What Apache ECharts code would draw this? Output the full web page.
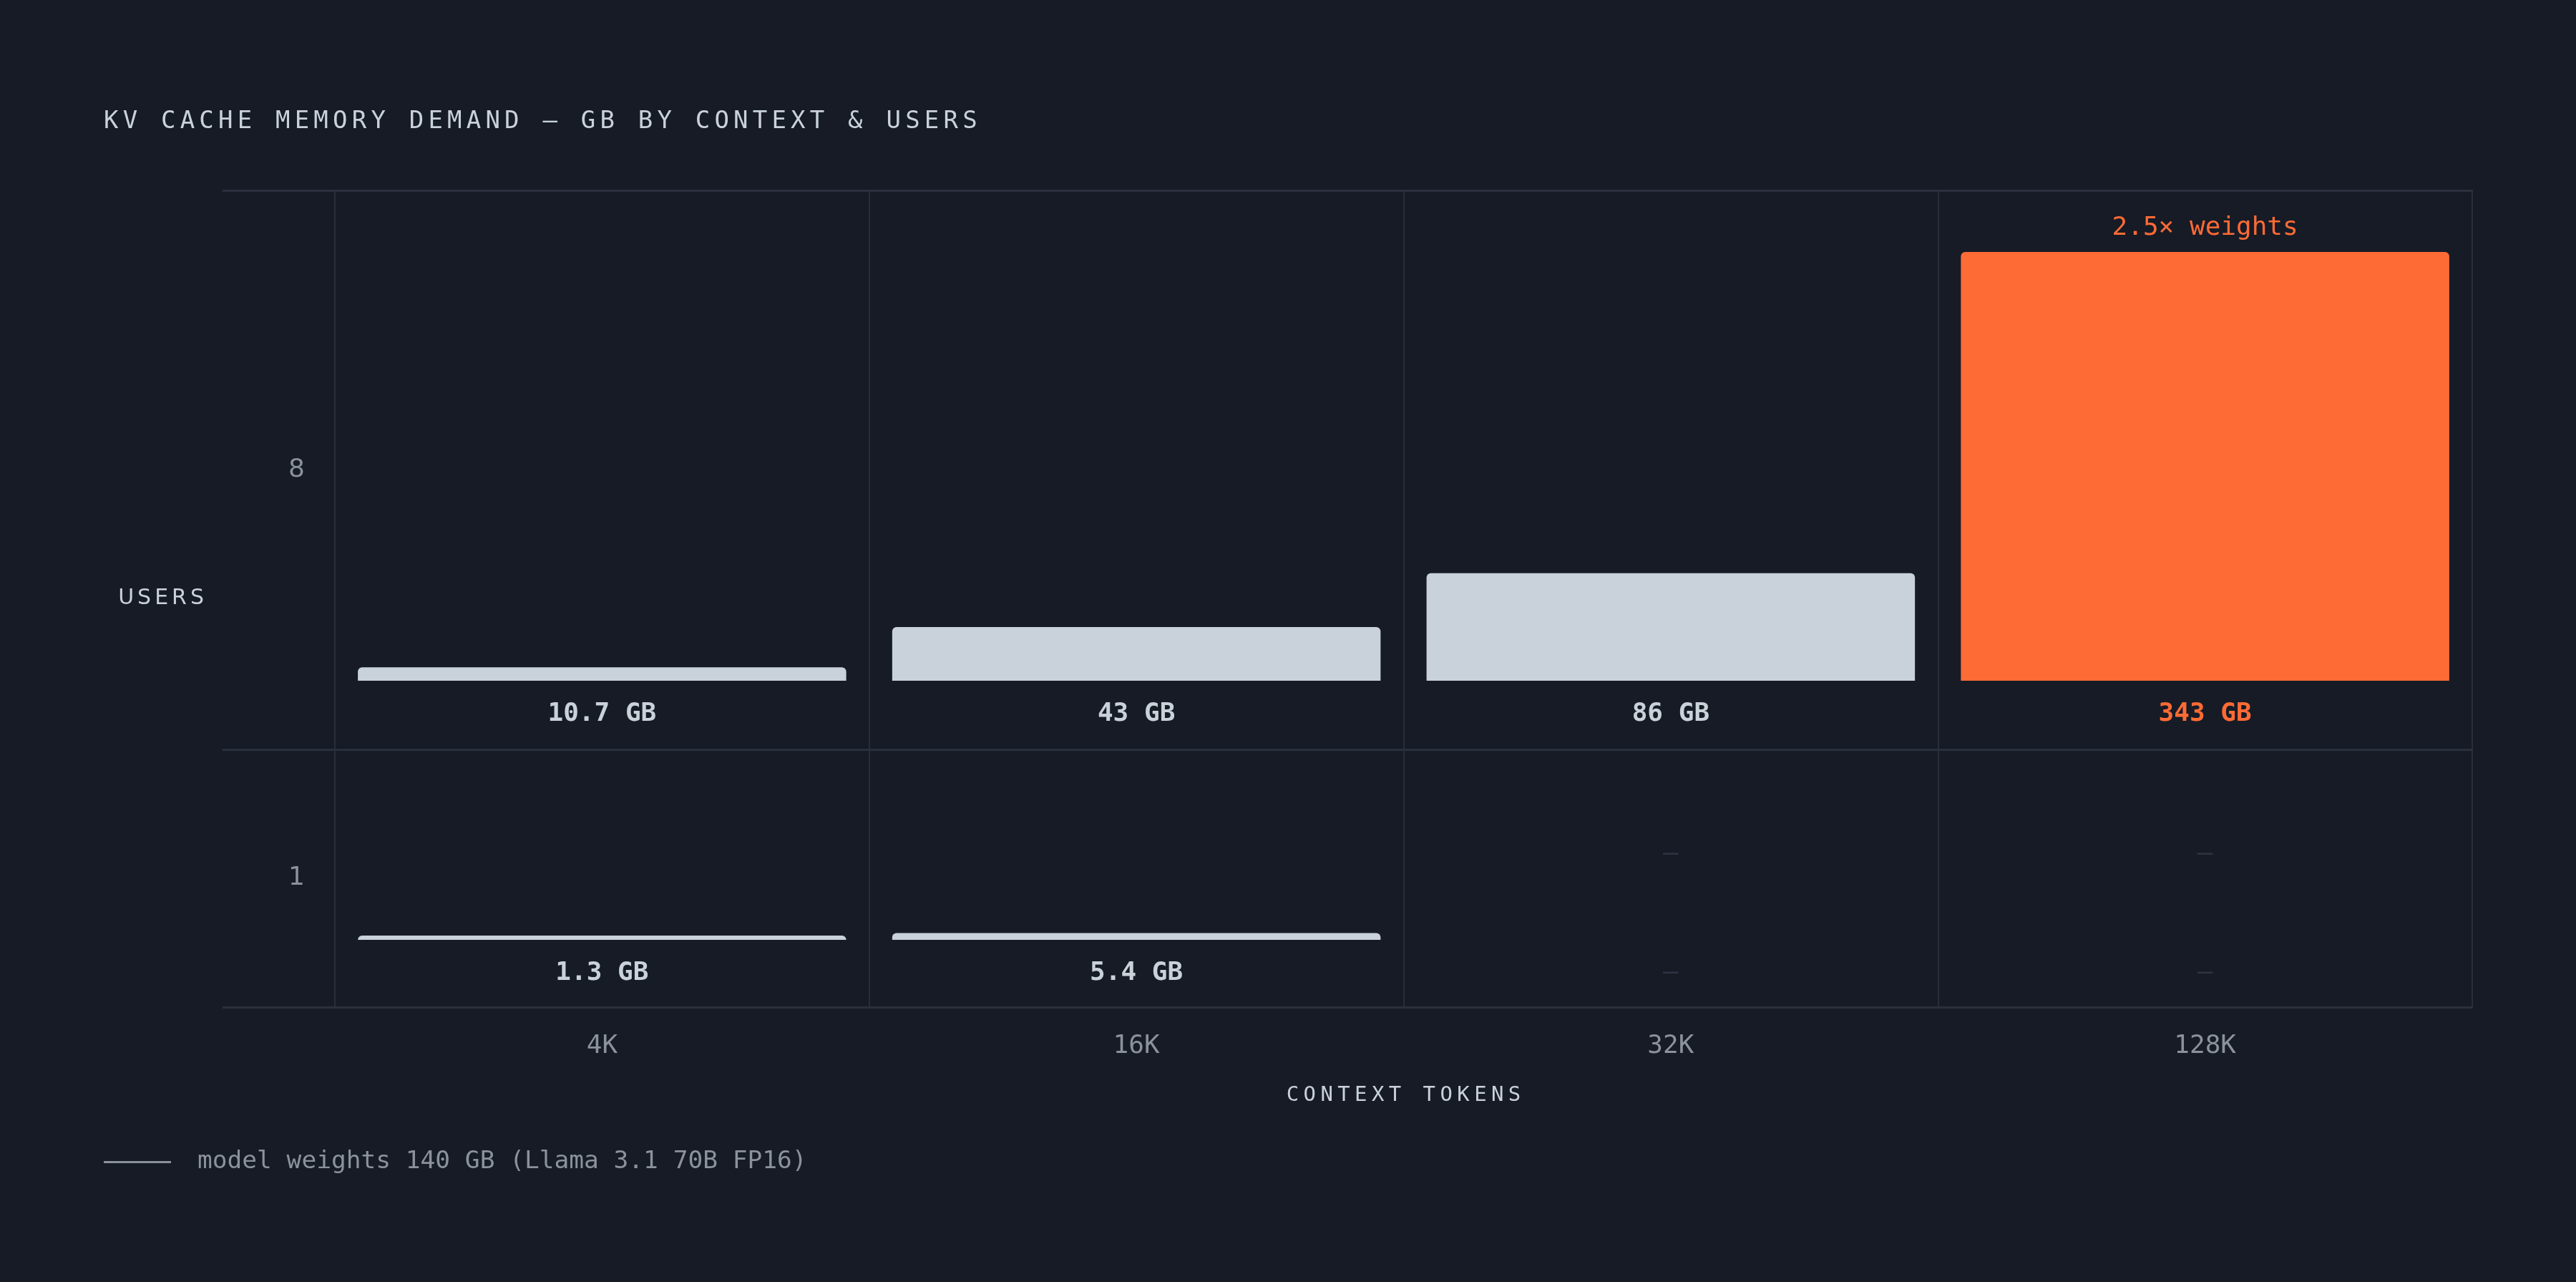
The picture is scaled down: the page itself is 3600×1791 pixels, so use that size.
<!DOCTYPE html>
<html>
<head>
<meta charset="utf-8">
<style>
  html, body { margin: 0; padding: 0; background: #161b26; }
  #chart { width: 3600px; height: 1791px; }
</style>
<script src="https://cdn.jsdelivr.net/npm/echarts@6/dist/echarts.min.js"></script>
</head>
<body>
<div id="chart"></div>
<script>
// ---- data ----
const TITLE = 'KV CACHE MEMORY DEMAND — GB BY CONTEXT & USERS';
const CONTEXTS = ['4K', '16K', '32K', '128K'];
const USER_ROWS = ['8', '1'];
const GB_8_USERS = [10.7, 43, 86, 343];
const GB_1_USER = [1.3, 5.4, null, null];
const WEIGHTS_GB = 140;
const WEIGHTS_LABEL = 'model weights 140 GB (Llama 3.1 70B FP16)';
const X_NAME = 'CONTEXT TOKENS';
const Y_NAME = 'USERS';
const MISSING_MARK = '—';

// ---- styles ----
const BG = '#161b26';
const GRID_H = '#2a303c';
const GRID_V = '#272d39';
const BAR = '#c9d1da';
const HOT = '#ff6b35';
const TEXT = '#c9d1d9';
const MUTED = '#8b929c';
const DIM = '#2e3442';
const MONO = "'DejaVu Sans Mono', 'Liberation Mono', monospace";
const SANS = "'DejaVu Sans', 'Noto Sans', sans-serif";

// tracked (letter-spaced) captions: drawn glyph by glyph with extra advance
const SPACING = {};
SPACING[TITLE] = 6.2;
SPACING[X_NAME] = 6.4;
SPACING[Y_NAME] = 5;
(function () {
  const proto = CanvasRenderingContext2D.prototype;
  const orig = proto.fillText;
  proto.fillText = function (t, x, y, mw) {
    const ls = SPACING[t];
    if (ls === undefined) {
      return mw === undefined ? orig.call(this, t, x, y) : orig.call(this, t, x, y, mw);
    }
    const chars = Array.from(t);
    const widths = chars.map(c => this.measureText(c).width);
    const total = widths.reduce((a, b) => a + b, 0) + ls * (chars.length - 1);
    const align = this.textAlign;
    let sx = x;
    if (align === 'center') sx = x - total / 2;
    else if (align === 'right' || align === 'end') sx = x - total;
    this.textAlign = 'left';
    for (let i = 0; i < chars.length; i++) {
      orig.call(this, chars[i], sx, y);
      sx += widths[i] + ls;
    }
    this.textAlign = align;
  };
})();

const maxGB = Math.max(...GB_8_USERS, ...GB_1_USER.filter(v => v != null));
const isHot = v => v != null && v > WEIGHTS_GB;

const COL_L = 468, RIGHT = 145, FRAME_L = 312;
const TOP = 266, ROW_SPLIT = 1047, BOTTOM_Y = 1407, H = 1791;
const BAR_H = 599;
const BASE8 = 951, BASE1 = 1313;

const hidden = { axisLine: { show: false }, axisTick: { show: false }, axisLabel: { show: false }, splitLine: { show: false } };
const hLine = (gridIndex, position) => ({
  gridIndex, type: 'value', min: 0, max: 1, position,
  axisLine: { show: true, onZero: false, lineStyle: { color: GRID_H, width: 3 } },
  axisTick: { show: false }, axisLabel: { show: false }, splitLine: { show: false }
});
const rowLabelAxis = (gridIndex, label) => ({
  gridIndex, type: 'category', data: [label],
  axisLine: { show: false }, axisTick: { show: false }, splitLine: { show: false },
  axisLabel: { inside: true, margin: 114, align: 'right', color: MUTED, fontFamily: SANS, fontSize: 36 }
});

const valueLabel = {
  show: true, position: 'bottom', distance: 29,
  formatter: p => p.value + ' GB',
  fontFamily: MONO, fontWeight: 'bold', fontSize: 36
};
const toItems = arr => arr.map(v => v == null ? null : ({
  value: v,
  itemStyle: { color: isHot(v) ? HOT : BAR },
  label: { color: isHot(v) ? HOT : TEXT }
}));
const missing = arr => arr.map(v => v == null ? 0 : null);

const option = {
  backgroundColor: BG,
  animation: false,
  title: {
    text: TITLE, left: 145, top: 153, padding: 0,
    textStyle: { fontFamily: MONO, fontSize: 34, fontWeight: 'normal', color: TEXT }
  },
  legend: {
    left: 145, top: 1606, padding: 0, icon: 'rect', itemWidth: 94, itemHeight: 3,
    selectedMode: false, data: [WEIGHTS_LABEL],
    formatter: n => '{g|}' + n,
    textStyle: { fontFamily: MONO, fontSize: 34.5, color: MUTED, rich: { g: { width: 32 } } }
  },
  grid: [
    { left: COL_L, right: RIGHT, top: TOP, bottom: H - BOTTOM_Y },          // 0 column frame
    { left: FRAME_L, right: RIGHT, top: TOP, height: ROW_SPLIT - TOP },      // 1 row "8" frame
    { left: FRAME_L, right: RIGHT, top: ROW_SPLIT, bottom: H - BOTTOM_Y },  // 2 row "1" frame
    { left: COL_L, right: RIGHT, top: BASE8 - BAR_H, height: BAR_H },        // 3 row "8" bars
    { left: COL_L, right: RIGHT, top: BASE1 - BAR_H, height: BAR_H }         // 4 row "1" bars
  ],
  xAxis: [
    {
      gridIndex: 0, type: 'category', data: CONTEXTS, position: 'bottom', boundaryGap: true,
      axisLine: { show: false }, axisTick: { show: false },
      splitLine: { show: true, lineStyle: { color: GRID_V, width: 2 } },
      axisLabel: { color: MUTED, fontFamily: MONO, fontSize: 36, margin: 37 },
      name: X_NAME, nameLocation: 'middle', nameGap: 109,
      nameTextStyle: { color: TEXT, fontFamily: MONO, fontSize: 29 }
    },
    hLine(1, 'top'),
    hLine(1, 'bottom'),
    hLine(2, 'bottom'),
    Object.assign({ gridIndex: 3, type: 'category', data: CONTEXTS }, hidden),
    Object.assign({ gridIndex: 4, type: 'category', data: CONTEXTS }, hidden)
  ],
  yAxis: [
    Object.assign({
      gridIndex: 0, type: 'value', min: 0, max: 1,
      name: Y_NAME, nameLocation: 'middle', nameRotate: 0, nameGap: 183,
      nameTextStyle: { color: TEXT, fontFamily: SANS, fontSize: 30 }
    }, hidden),
    rowLabelAxis(1, USER_ROWS[0]),
    rowLabelAxis(2, USER_ROWS[1]),
    Object.assign({ gridIndex: 3, type: 'value', min: 0, max: maxGB }, hidden),
    Object.assign({ gridIndex: 4, type: 'value', min: 0, max: maxGB }, hidden)
  ],
  series: [
    {
      name: USER_ROWS[0] + ' users', type: 'bar', xAxisIndex: 4, yAxisIndex: 3,
      barCategoryGap: '8.6%', barGap: '-100%', barMinHeight: 6, silent: true,
      itemStyle: { borderRadius: [6, 6, 0, 0] },
      label: valueLabel,
      data: toItems(GB_8_USERS)
    },
    {
      name: 'annotation', type: 'bar', xAxisIndex: 4, yAxisIndex: 3,
      barCategoryGap: '8.6%', barGap: '-100%', silent: true,
      itemStyle: { color: 'rgba(0,0,0,0)' },
      label: {
        show: true, position: 'top', distance: 15, color: HOT, fontFamily: MONO, fontSize: 36,
        formatter: p => isHot(p.value) ? (p.value / WEIGHTS_GB).toFixed(1) + '× weights' : ''
      },
      data: GB_8_USERS
    },
    {
      name: USER_ROWS[1] + ' user', type: 'bar', xAxisIndex: 5, yAxisIndex: 4,
      barCategoryGap: '8.6%', barGap: '-100%', barMinHeight: 6, silent: true,
      itemStyle: { borderRadius: [6, 6, 0, 0] },
      label: valueLabel,
      data: toItems(GB_1_USER)
    },
    {
      name: 'missing-low', type: 'bar', xAxisIndex: 5, yAxisIndex: 4,
      barCategoryGap: '8.6%', barGap: '-100%', silent: true,
      itemStyle: { color: 'rgba(0,0,0,0)' },
      label: { show: true, position: 'bottom', distance: 29, formatter: MISSING_MARK, color: DIM, fontFamily: MONO, fontSize: 36 },
      data: missing(GB_1_USER)
    },
    {
      name: 'missing-high', type: 'bar', xAxisIndex: 5, yAxisIndex: 4,
      barCategoryGap: '8.6%', barGap: '-100%', silent: true,
      itemStyle: { color: 'rgba(0,0,0,0)' },
      label: { show: true, position: 'top', distance: 101, formatter: MISSING_MARK, color: DIM, fontFamily: MONO, fontSize: 36 },
      data: missing(GB_1_USER)
    },
    {
      name: WEIGHTS_LABEL, type: 'line', xAxisIndex: 4, yAxisIndex: 3,
      lineStyle: { color: MUTED }, itemStyle: { color: MUTED }, data: []
    }
  ]
};

const chart = echarts.init(document.getElementById('chart'), null, { renderer: 'canvas' });
chart.setOption(option);
</script>
</body>
</html>
